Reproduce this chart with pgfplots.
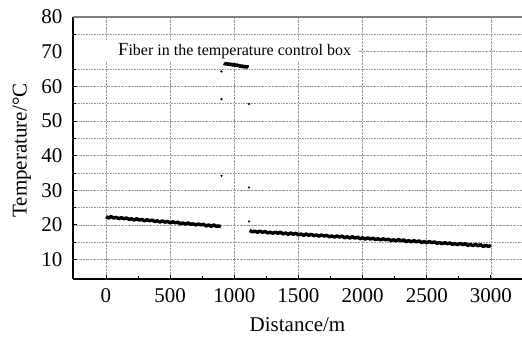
\documentclass[border=0pt]{standalone}
\usepackage{fontspec}
\setmainfont{Liberation Serif}
\usepackage{pgfplots}
\pgfplotsset{compat=1.18}
\begin{document}
\begin{tikzpicture}[x=1pt,y=1pt]
\path[use as bounding box] (-73,-58) rectangle (449,279);
\begin{axis}[
  at={(0,0)}, anchor=south west,
  scale only axis, width=449pt, height=262pt,
  xmin=-257, xmax=3242, ymin=4.4, ymax=80,
  axis x line*=bottom, axis y line*=left,
  axis line style={-, black, line width=1.3pt},
  xtick={0,500,...,3000}, ytick={10,20,...,80},
  minor x tick num=1, minor y tick num=1,
  tick align=inside,
  major tick length=4pt, minor tick length=3pt,
  tick style={black, line width=0.9pt},
  xmajorgrids, ymajorgrids, yminorgrids,
  grid style={densely dotted, gray!80, line width=0.6pt},
  minor grid style={densely dotted, gray!80, line width=0.6pt},
  /pgf/number format/assume math mode=true,
  /pgf/number format/set thousands separator={},
  ticklabel style={font=\fontsize{21}{24}\selectfont},
  yticklabel style={anchor=east, xshift=-7pt},
  xticklabel style={anchor=north, yshift=-6pt},
  xlabel={Distance/m}, ylabel={Temperature/\textdegree C},
  label style={font=\fontsize{21}{24}\selectfont},
  xlabel style={at={(axis description cs:0.5,0)}, anchor=center, yshift=-46pt},
  ylabel style={at={(axis description cs:0,0.49)}, anchor=center, rotate=0, yshift=51pt},
  clip=false,
]
\fill[white] (axis cs:-250,67.1) rectangle (axis cs:1964,73.5);
\node[anchor=base west, inner sep=0pt, font=\fontsize{16}{18}\selectfont] at (axis cs:94,69.0) {{\fontsize{18.5}{20}\selectfont F}iber in the temperature control box};
\draw[gray, line width=1.5pt] (rel axis cs:0,1) -- (rel axis cs:1,1);
% segment 1
\addplot[black, line width=3.4pt, line join=round] coordinates {
(0,22.4)(20,22.0)(40,22.4)(60,22.0)(80,22.2)(100,21.8)(120,22.1)(140,21.8)(160,22.0)(180,21.6)
(200,21.8)(220,21.4)(240,21.8)(260,21.4)(280,21.6)(300,21.2)(320,21.5)(340,21.2)(360,21.4)(380,21.0)
(400,21.2)(420,20.8)(440,21.2)(460,20.8)(480,21.0)(500,20.6)(520,20.9)(540,20.6)(560,20.8)(580,20.3)
(600,20.6)(620,20.2)(640,20.6)(660,20.2)(680,20.3)(700,20.0)(720,20.3)(740,20.0)(760,20.2)(780,19.7)
(800,20.0)(820,19.6)(840,20.0)(860,19.6)(880,19.7)(895,19.5)
};
% plateau
\addplot[black, line width=3.4pt, line join=round] coordinates {
(920,66.7)(930,66.4)(940,66.6)(950,66.3)(960,66.5)(970,66.2)(980,66.4)(990,66.1)(1000,66.3)(1010,66.0)
(1020,66.2)(1030,65.9)(1040,66.0)(1050,65.7)(1060,65.9)(1070,65.6)(1080,65.8)(1090,65.5)(1100,65.7)(1110,65.5)
};
% outliers
\addplot[only marks, mark=*, mark size=0.9pt, black] coordinates {
(900,64.3)(900,56.3)(900,34.2)(1115,54.9)(1115,30.8)(1115,21.0)
};
% segment 2
\addplot[black, line width=3.4pt, line join=round] coordinates {
(1120,18.4)(1140,18.0)(1160,18.2)(1180,17.9)(1200,18.2)(1220,17.9)(1240,18.1)(1260,17.7)(1280,17.9)(1300,17.6)
(1320,17.9)(1340,17.6)(1360,17.9)(1380,17.4)(1400,17.7)(1420,17.3)(1440,17.7)(1460,17.3)(1480,17.6)(1500,17.1)
(1520,17.4)(1540,17.0)(1560,17.4)(1580,17.0)(1600,17.3)(1620,16.9)(1640,17.1)(1660,16.8)(1680,17.1)(1700,16.8)
(1720,17.0)(1740,16.6)(1760,16.8)(1780,16.5)(1800,16.8)(1820,16.5)(1840,16.8)(1860,16.3)(1880,16.6)(1900,16.2)
(1920,16.6)(1940,16.2)(1960,16.5)(1980,16.0)(2000,16.3)(2020,15.9)(2040,16.3)(2060,15.9)(2080,16.2)(2100,15.8)
(2120,16.0)(2140,15.7)(2160,16.0)(2180,15.7)(2200,15.9)(2220,15.5)(2240,15.7)(2260,15.4)(2280,15.8)(2300,15.4)
(2320,15.7)(2340,15.2)(2360,15.5)(2380,15.1)(2400,15.5)(2420,15.1)(2440,15.4)(2460,14.9)(2480,15.2)(2500,14.9)
(2520,15.2)(2540,14.9)(2560,15.1)(2580,14.7)(2600,14.9)(2620,14.6)(2640,14.9)(2660,14.6)(2680,14.8)(2700,14.4)
(2720,14.6)(2740,14.3)(2760,14.7)(2780,14.3)(2800,14.6)(2820,14.1)(2840,14.4)(2860,14.0)(2880,14.4)(2900,14.0)
(2920,14.3)(2940,13.8)(2960,14.1)(2980,13.8)(3000,14.1)
};
\end{axis}
\end{tikzpicture}
\end{document}
